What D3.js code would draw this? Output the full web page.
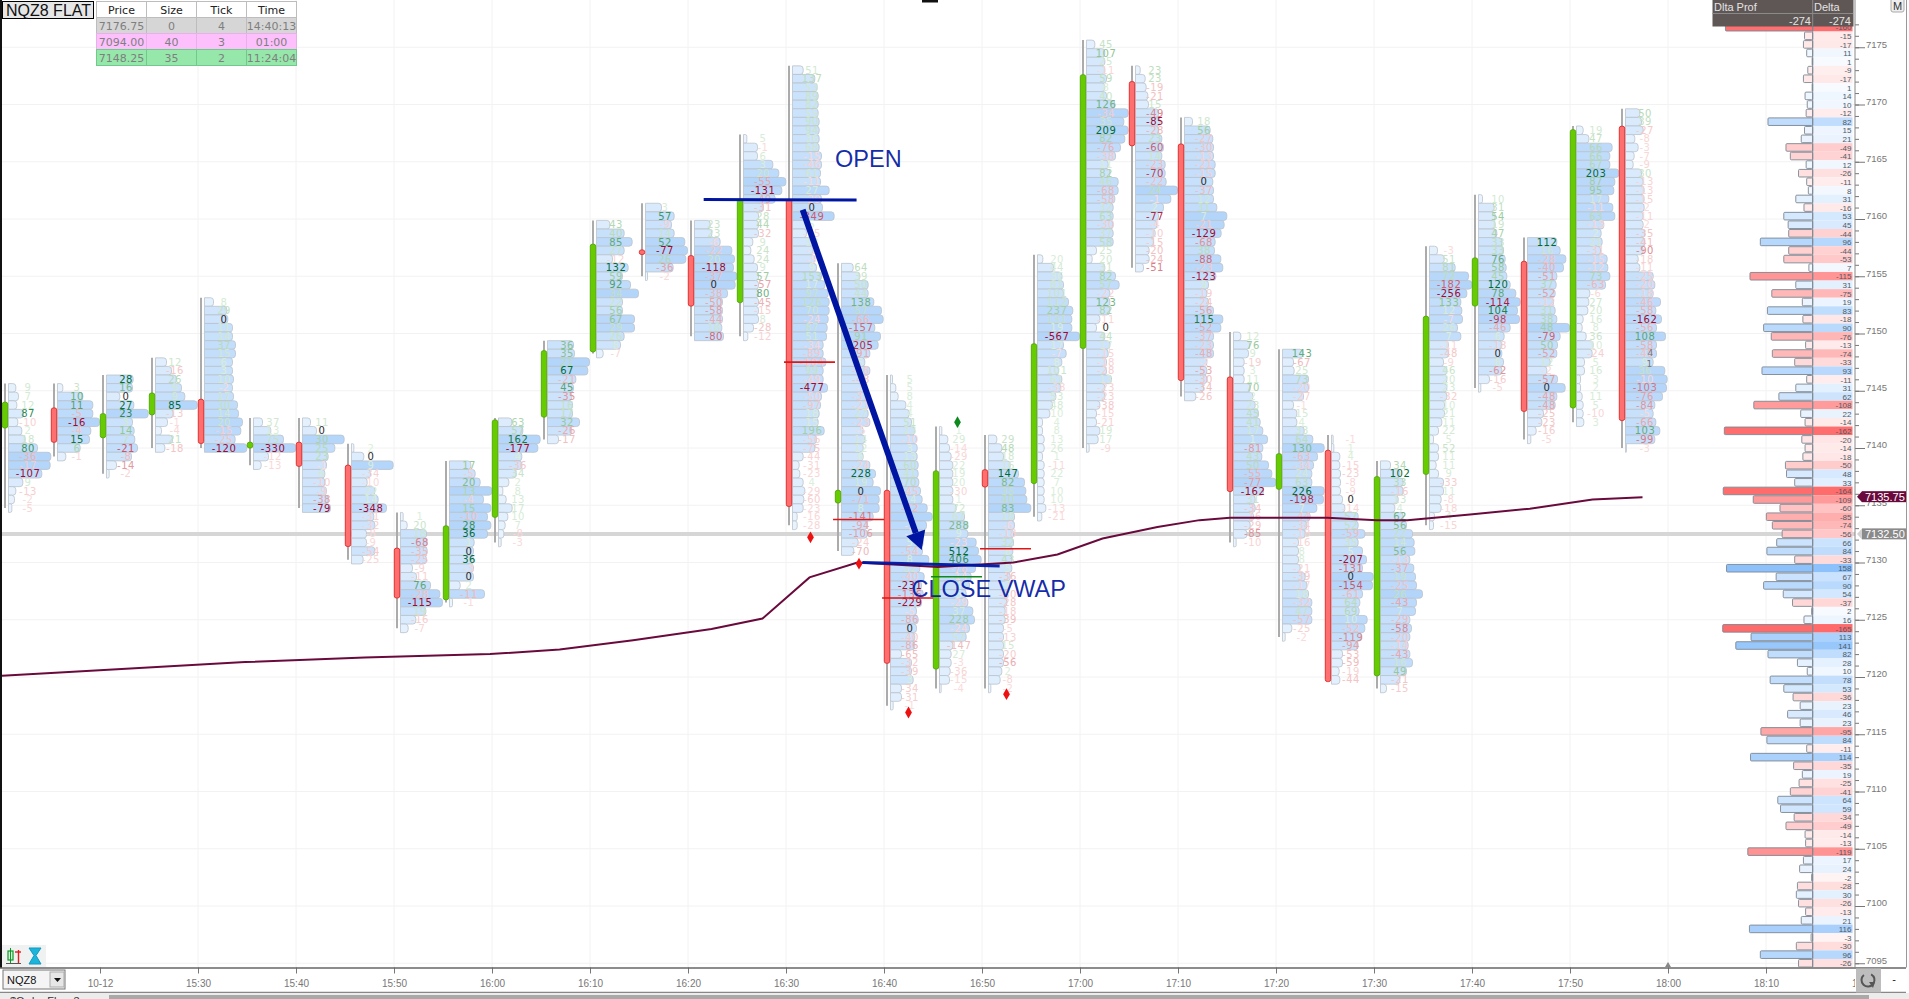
<!DOCTYPE html>
<html><head><meta charset="utf-8">
<script src="https://cdnjs.cloudflare.com/ajax/libs/d3/7.8.5/d3.min.js"></script>
<style>html,body{margin:0;padding:0;background:#fff;overflow:hidden}svg{display:block}</style>
</head><body><svg id="c" width="1909" height="999"></svg>
<script>
// minutes after 15:00 of each 5-minute bar
const barMinutes=[10,15,20,25,30,35,40,45,50,55,60,65,70,75,80,85,90,95,100,105,110,115,120,125,130,135,140,145,150,155,160,165,170,175];
const barTop=[7145.25,7145.25,7146,7147.5,7152.75,7142.25,7142.25,7140,7134,7138.5,7142.25,7149,7159.5,7161,7159.5,7167,7173,7155.75,7146,7141.5,7140.75,7156.5,7175.25,7173,7168.5,7149.75,7148.25,7140.75,7138.5,7157.25,7161.75,7158,7167.75,7169.25];
const barOpen=[7141.75,7143.5,7140.9,7142.9,7144.25,7140,7140.5,7138.5,7131.25,7126.75,7133.95,7142.7,7148.4,7157.3,7156.8,7152.7,7161.7,7135.2,7136.3,7120.7,7138.1,7136.9,7148.7,7172,7166.55,7146.2,7136.4,7139.8,7120.1,7137.7,7152.4,7156.3,7143.5,7168.1];
const barClose=[7144,7140.5,7143,7144.8,7140.4,7140.5,7138.4,7131.4,7126.9,7133.2,7142.45,7148.5,7157.8,7156.9,7152.4,7161.7,7134.9,7136.3,7121.2,7138,7136.6,7149.1,7172.6,7166.4,7145.9,7136.2,7139.5,7119.6,7137.5,7151.5,7156.6,7143.2,7167.8,7142.4];
// bid/ask delta of each price row, top to bottom
const barDeltas=[
[9,7,12,87,-10,2,18,80,-36,-17,-107,9,-13,-2,-5],
[3,10,11,-5,-16,-4,15,6,-1],
[28,16,0,27,23,3,14,7,-21,-8,-14,-2],
[12,-16,26,9,9,85,-13,-1,-4,21,-18],
[8,29,0,11,14,37,15,6,3,10,-2,17,30,14,20,-15,-25,-120],
[37,13,75,-330,-12,-13],
[11,0,30,25,23,-1,6,-10,-9,-38,-79],
[2,0,9,-34,-10,22,14,-348,-31,-32,-8,-9,-54,-25],
[1,20,18,-68,-35,-25,-9,-11,76,-28,-115,19,-16,-7],
[17,-5,20,13,-4,15,-10,28,36,1,0,36,-3,0,2,-11,-1],
[63,57,162,-177,4,-36,34,2,8,13,17,10,7,-8,-3],
[36,35,21,67,-21,45,-35,16,17,32,-26,-17],
[43,40,85,27,-12,132,59,92,34,22,56,67,29,26,8,-7],
[3,57,-9,14,52,-77,26,-36,-2],
[23,23,-6,-22,20,-118,-37,0,-38,-50,-58,-44,18,-80],
[5,-1,6,3,20,-55,-131,-49,-31,28,44,-32,9,24,24,9,57,-57,80,-45,-15,8,-28,-12],
[51,137,53,89,82,55,90,94,36,68,-15,-46,61,-11,27,-29,0,-349,5,-15,38,-3,-9,9,153,17,97,126,70,-24,87,51,-34,-89,-104,99,-49,-477,-50,-97,18,15,196,-56,-75,-44,-31,-23,4,-29,-60,-23,-16,-28],
[64,39,50,44,138,57,-66,-157,91,-205,-91,5,-36,-48,-9,-31,-21,27,-23,-5,14,12,6,-24,228,19,0,-71,8,-141,-94,-106,-24,-70],
[5,5,8,4,4,51,23,-10,3,13,60,41,70,-45,14,-72,6,-5,-2,5,-54,8,32,-40,-231,-136,-229,-5,-86,0,-40,-86,-65,-32,-39,3,-34,-31,-1],
[1,29,-14,-29,22,19,20,-30,1,72,67,288,9,-23,512,406,-78,-14,4,5,-29,37,228,-24,57,-147,27,-3,-36,-15,-4],
[29,48,18,16,147,82,35,40,83,18,-6,-18,32,8,43,5,-36,7,-30,-28,-18,-39,-5,-13,15,-20,-56,2,-8,-2],
[20,44,36,81,101,112,237,131,19,-567,17,-7,8,101,61,-38,53,48,10,4,8,13,26,1,-11,22,7,10,10,-13,-21],
[45,107,25,-11,59,8,40,126,-34,35,209,82,-76,-38,11,82,46,-68,-58,32,63,-30,37,58,25,20,31,82,57,-22,123,82,-11,0,44,17,-15,-18,-28,13,-23,-23,-38,-15,-21,19,17,-9],
[23,23,-19,-21,15,-49,-85,-28,23,-60,14,-23,-70,-22,24,-1,2,-77,-4,-10,-15,-20,-24,-51],
[18,56,-27,-30,-13,-21,-15,0,-37,12,31,7,-21,-129,-68,38,-88,-23,-123,9,-19,-24,-56,115,-52,-37,-23,-48,-2,-53,-30,-34,-26],
[12,76,9,-19,3,11,70,2,23,45,41,17,1,-81,43,50,-55,-77,-162,31,-34,-16,-29,-85,-10],
[143,-67,25,73,-20,-27,-1,15,4,33,64,130,-63,-34,24,63,226,-198,7,-44,-34,-18,-16,8,8,-21,-39,-17,18,-32,47,-57,-25,-2],
[-1,1,4,-15,-23,-8,-9,0,-14,57,52,-59,35,5,-207,-131,0,-154,-61,64,69,10,-52,-119,-94,-53,-59,-19,-44],
[34,102,33,-16,13,4,62,56,22,14,56,-13,-37,19,-25,26,-43,7,-29,-58,-20,-14,-43,16,49,-21,-15],
[-3,51,81,72,-182,-256,133,12,-7,26,7,-11,-48,-9,46,20,23,-32,10,21,11,22,5,52,11,11,9,-33,11,-8,-18,4,-15],
[10,31,54,19,47,33,33,76,58,45,120,78,-114,104,-98,-46,6,-18,0,8,-62,-16,-5],
[112,16,-28,-40,-51,37,-52,-12,31,38,48,-79,50,-52,12,-2,-57,0,-48,-48,-25,-23,-16,-5],
[19,47,66,66,67,203,87,95,17,-11,63,-13,2,21,-31,-15,-12,73,-63,-6,27,20,16,8,36,10,-24,5,16,3,2,11,5,-10,3],
[50,39,-27,-8,-3,-7,-9,30,-13,-13,-15,-2,-11,-2,-35,-41,-90,-18,-11,-25,-20,-18,-46,-58,-162,-56,108,-58,-40,9,36,-10,-103,-76,-84,-5,-66,103,-99,-3]
];
// traded volume of each price row (relative units read from the profile lengths)
const barVolumes=[
[22,30,25,45,28,40,50,87,127,125,100,43,22,18,10],
[16,76,106,106,126,100,96,68,25],
[80,78,40,82,125,78,83,85,93,75,30,8],
[33,48,63,78,88,125,53,36,18,51,28],
[27,67,70,84,84,93,93,84,84,87,84,87,99,102,114,109,92,127],
[27,52,90,127,45,23],
[24,42,125,97,77,72,67,67,72,77,84],
[7,37,125,57,47,70,80,105,67,70,45,45,70,35],
[8,20,78,80,80,78,36,48,90,118,126,76,46,23],
[64,77,92,127,102,124,114,124,114,74,72,72,72,72,32,105,9],
[40,73,125,118,70,70,53,31,13,23,41,28,20,16,8],
[78,81,126,121,85,78,73,75,75,96,73,33],
[40,83,107,83,48,95,78,102,126,78,78,114,114,83,72,20],
[48,86,78,86,118,126,121,83,6],
[47,52,77,112,120,117,127,122,99,84,84,84,82,87],
[10,42,42,88,106,127,115,95,60,45,45,45,28,22,32,42,45,45,45,45,45,45,30,13],
[32,67,74,77,77,77,80,80,80,80,87,87,84,84,110,87,90,125,52,42,62,62,67,72,87,97,107,110,110,107,104,102,92,92,100,92,92,105,87,84,80,77,95,72,67,32,20,22,32,37,34,32,14,14],
[35,55,80,80,97,120,125,100,117,110,85,70,85,70,70,85,80,80,85,65,70,65,65,85,102,95,117,113,113,95,77,77,50,37],
[6,16,23,46,56,63,73,78,80,80,83,83,85,90,95,110,125,108,98,98,96,115,88,101,93,98,93,78,83,78,73,73,33,63,63,68,33,33,8],
[7,25,30,35,40,40,40,40,40,50,75,85,85,110,117,125,108,95,90,80,85,100,105,90,80,40,35,35,32,30,5],
[25,40,45,65,90,108,112,115,127,78,78,75,75,73,70,70,65,65,55,55,50,50,45,45,45,45,45,40,35,7],
[16,48,73,78,78,93,106,103,103,126,78,86,73,63,73,70,55,45,37,15,15,20,20,15,20,20,20,20,20,25,13],
[25,55,55,55,60,55,60,85,125,112,125,115,102,87,65,70,95,95,85,80,80,80,80,80,30,17,55,87,98,70,70,70,40,30,55,70,65,60,60,75,55,55,40,30,30,40,35,8],
[14,29,32,37,39,69,74,69,79,84,79,89,89,92,126,106,84,69,64,59,54,41,41,24],
[24,77,85,87,87,92,92,85,87,87,97,127,119,110,92,90,109,115,94,72,67,72,87,115,109,87,87,87,67,67,67,57,34],
[22,48,45,32,32,32,50,58,65,75,80,88,102,88,85,105,115,127,90,65,65,60,50,40,8],
[61,33,35,78,78,63,33,43,43,65,91,125,105,93,88,88,125,123,103,83,73,68,48,48,48,53,68,73,78,88,88,88,28,8],
[5,7,25,25,27,27,27,33,40,80,80,100,80,93,105,93,125,123,93,85,83,107,100,90,80,33,33,23,25],
[30,58,68,68,53,43,68,78,96,101,103,88,100,105,108,126,108,105,88,93,88,83,88,96,78,58,18],
[24,44,77,117,127,112,94,97,99,84,94,57,57,42,52,52,52,52,45,45,37,27,12,27,27,20,27,42,42,35,35,15,12],
[12,47,50,50,55,70,75,80,83,85,95,112,125,117,123,95,77,70,70,75,70,33,7],
[88,98,115,108,88,86,83,78,83,88,126,98,90,88,68,58,90,113,88,83,48,43,26,10],
[20,37,107,100,100,127,115,112,97,109,115,82,74,77,72,92,94,100,87,40,37,34,20,17,29,50,47,24,24,12,12,17,20,20,22],
[43,48,53,28,38,26,23,48,53,56,56,56,53,53,58,58,53,38,43,83,88,83,105,91,108,93,120,93,93,83,118,125,123,111,88,83,91,103,88,3]
];
// session delta profile, from 7176.75 down in 0.75 steps
const profileTop=7176.75;
const sessionDelta="-274";
const profileDeltas=[-160,-15,-17,11,1,-9,-17,1,14,10,-12,82,15,21,-49,-41,12,-26,-11,8,31,-16,53,45,-44,96,-44,-53,7,-115,31,-75,19,83,-18,90,-76,-13,-74,-33,93,-11,31,62,-108,22,-14,-162,-20,-14,-18,-50,48,33,-164,-109,-60,-85,-74,-56,66,84,-33,158,67,90,54,-37,2,16,-165,113,141,82,28,10,78,53,-36,23,46,23,-95,84,-11,114,-35,19,-25,-41,64,59,-34,-49,-14,-13,-119,17,24,-2,-28,30,-26,-13,21,116,-3,-30,96,-26];
const vwapMinutes=[10,15.9,22.2,34.8,47,59.8,66.9,74.4,82.4,87.6,92.4,97.3,105.5,113.2,117.7,122.3,127.9,132.2,135.3,145.2,150.3,153.4,159.8,165.9,172.3,177.4];
const vwapPrices=[7120.1,7120.4,7120.7,7121.3,7121.7,7122,7122.4,7123.2,7124.2,7125.1,7128.7,7130,7129.6,7130,7130.7,7132.1,7133.1,7133.7,7133.9,7133.9,7133.7,7133.7,7134.2,7134.7,7135.5,7135.7];
const timeTickMinutes=[20,30,40,50,60,70,80,90,100,110,120,130,140,150,160,170,180,190,200];
const timeTickLabels=["10-12","15:30","15:40","15:50","16:00","16:10","16:20","16:30","16:40","16:50","17:00","17:10","17:20","17:30","17:40","17:50","18:00","18:10","18:20"];
const priceTicks=[7175,7170,7165,7160,7155,7150,7145,7140,7135,7130,7125,7120,7115,7110,7105,7100,7095];
const tableHeaders=["Price","Size","Tick","Time"];
const tableRows=[["7176.75","0","4","14:40:13"],["7094.00","40","3","01:00"],["7148.25","35","2","11:24:04"]];
const tableColors=["#d6d6d6","#fdc0fd","#95e8aa"];
const tableBorders=["#bdbdbd","#e8b0e8","#72c98c"];
const lastPrice=7132.5, vwapLast=7135.75;
const redDiamonds=[[92.5,7132.2],[97.45,7129.9],[102.5,7116.9],[112.5,7118.5]];
const greenDiamonds=[[107.5,7142.25]];
const redSegments=[[89.8,95,7147.5],[94.8,100,7133.75],[99.8,105,7126.9],[109.8,115,7131.2]];
const greenSegments=[[104.8,110,7128.75]];
const openLine=[[81.6,7161.7],[97.2,7161.66]];
const vwapNote=[[97.8,7130],[111.8,7129.7]];
const arrowLine=[[91.7,7160.8],[103.85,7131.1]];
const notes=[["OPEN",95,7164.5],["CLOSE VWAP",102.8,7127]];
const smallCounts=[["4",178.2,7148],["1",178.1,7147.1]];

const W=1909,H=999,axisX=1855,chartBottom=967.5;
const x=d3.scaleLinear().domain([30,190]).range([198,1766]);
const y=d3.scaleLinear().domain([7170,7095]).range([104.5,963.25]);
const rowH=y(7169.25)-y(7170);
const barOff=3;
const vol=d3.scaleLinear().domain([0,300]).range([0,100]);
const svg=d3.select("#c");
const DJ="'DejaVu Sans'",LB="'Liberation Sans'";
svg.append("rect").attr("width",W).attr("height",H).attr("fill","#fff");
svg.append("defs").append("clipPath").attr("id","timeClip").append("rect").attr("x",0).attr("y",960).attr("width",axisX).attr("height",40);

// grid
const grid=svg.append("g");
grid.selectAll("line.h").data(priceTicks).join("line").attr("class","h").attr("x1",2).attr("x2",axisX).attr("y1",d=>y(d)).attr("y2",d=>y(d)).attr("stroke","#f2f2f2");
grid.selectAll("line.v").data(timeTickMinutes.slice(1,18)).join("line").attr("class","v").attr("x1",d=>x(d)).attr("x2",d=>x(d)).attr("y1",0).attr("y2",chartBottom).attr("stroke","#f2f2f2");
// last price band
svg.append("line").attr("x1",2).attr("x2",axisX).attr("y1",y(lastPrice)).attr("y2",y(lastPrice)).attr("stroke","#d6d6d6").attr("stroke-width",4);

// footprint bars
const fillC=d3.scaleLinear().domain([0,127]).range(["#f0f7fe","#b3d5fa"]).clamp(true);
const greenC=d3.scaleLinear().domain([0,.25,.5,.75,1]).range(["#dcefdc","#c2e0c2","#92c795","#3f9462","#006b35"]).clamp(true);
const redC=d3.scaleLinear().domain([0,.25,.5,.75,1]).range(["#fadcdc","#f2c0c0","#e29a9e","#c9566a","#a00a30"]).clamp(true);
function deltaColor(d,mx){return d===0?"#2c2c2c":d>0?greenC(d/mx):redC(-d/mx);}
function rowPath(x0,yc,w,h){
  const r=Math.min(3,w/2),p=d3.path(),t=yc-h/2,b=yc+h/2;
  p.moveTo(x0,t);p.lineTo(x0+w-r,t);p.quadraticCurveTo(x0+w,t,x0+w,t+r);p.lineTo(x0+w,b-r);p.quadraticCurveTo(x0+w,b,x0+w-r,b);p.lineTo(x0,b);p.closePath();
  return p.toString();
}
barMinutes.forEach((m,i)=>{
  const cx=x(m)+barOff,g=svg.append("g");
  const rows=barDeltas[i].map((d,j)=>({d,v:barVolumes[i][j],p:barTop[i]-0.75*j}));
  const mx=d3.max(barDeltas[i],Math.abs);
  g.append("line").attr("x1",cx).attr("x2",cx).attr("y1",y(barTop[i])-rowH/2).attr("y2",y(rows[rows.length-1].p)).attr("stroke","#ababab").attr("stroke-width",2);
  g.selectAll("path").data(rows).join("path").attr("d",r=>rowPath(cx+3.5,y(r.p),vol(r.v),rowH)).attr("fill",r=>fillC(r.v)).attr("stroke","#bac3cd").attr("stroke-width",.8);
  const top=Math.min(y(barOpen[i]),y(barClose[i])),h=Math.max(Math.abs(y(barOpen[i])-y(barClose[i])),4.5),up=barClose[i]>=barOpen[i];
  g.append("rect").attr("x",cx-2.7).attr("y",top).attr("width",5.4).attr("height",h).attr("rx",2).attr("fill",up?"#66cc00":"#ff6f6f").attr("stroke",up?"#4da600":"#e02525").attr("stroke-width",.9);
  g.selectAll("text").data(rows).join("text").attr("x",cx+23).attr("y",r=>y(r.p)+3.6).attr("text-anchor","middle").attr("font-family",DJ).attr("font-size",10).attr("letter-spacing",.5).attr("fill",r=>deltaColor(r.d,mx)).text(r=>r.d);
});
// vwap
svg.append("path").attr("d",d3.line().x((d,i)=>x(vwapMinutes[i])).y(d=>y(d))(vwapPrices)).attr("fill","none").attr("stroke","#6a0a3c").attr("stroke-width",2);

// right delta profile
const prof=svg.append("g");
const profX=1812.7,profRight=1852.5;
const profW=d3.scaleLinear().domain([0,165]).range([0,90]);
const blueP=d3.scaleLinear().domain([0,158]).range(["#f8fbff","#8cc1fb"]);
const redP=d3.scaleLinear().domain([0,165]).range(["#fff6f6","#ff6b6b"]);
const pRows=profileDeltas.map((d,i)=>({d,p:profileTop-0.75*i}));
const pc=d=>d>=0?blueP(d):redP(-d);
prof.selectAll("rect.c").data(pRows).join("rect").attr("class","c").attr("x",profX).attr("width",profRight-profX).attr("y",r=>y(r.p)-rowH/2).attr("height",rowH).attr("fill",r=>pc(r.d));
prof.selectAll("rect.b").data(pRows).join("rect").attr("class","b").attr("x",r=>profX-profW(Math.abs(r.d))).attr("width",r=>profW(Math.abs(r.d))).attr("y",r=>y(r.p)-rowH/2+.5).attr("height",rowH-1).attr("rx",1).attr("fill",r=>pc(r.d)).attr("stroke","#7d8792").attr("stroke-width",.9);
prof.selectAll("text").data(pRows).join("text").attr("x",profRight-1).attr("y",r=>y(r.p)+3.2).attr("text-anchor","end").attr("font-family",LB).attr("font-size",8).attr("fill","#4f5a66").text(r=>r.d);
prof.append("line").attr("x1",profX).attr("x2",profX).attr("y1",26).attr("y2",chartBottom).attr("stroke","#7d8792");
// header
const hd=svg.append("g").attr("font-family",LB).attr("font-size",11).attr("fill","#e4e4e4");
hd.append("rect").attr("x",1712.5).attr("y",0).attr("width",141).attr("height",26.5).attr("fill","#5f5755");
hd.append("line").attr("x1",1712.5).attr("x2",1853).attr("y1",13.5).attr("y2",13.5).attr("stroke","#8a8a8a");
hd.append("line").attr("x1",profX).attr("x2",profX).attr("y1",0).attr("y2",26.5).attr("stroke","#8a8a8a");
hd.append("text").attr("x",1714).attr("y",11).text("Dlta Prof");
hd.append("text").attr("x",1814).attr("y",11).text("Delta");
hd.append("text").attr("x",1811).attr("y",24.5).attr("text-anchor","end").text(sessionDelta);
hd.append("text").attr("x",1851).attr("y",24.5).attr("text-anchor","end").text(sessionDelta);

// annotations
const ann=svg.append("g");
const BLUE="#0016a2";
ann.selectAll("line.r").data(redSegments).join("line").attr("class","r").attr("x1",d=>x(d[0])).attr("x2",d=>x(d[1])).attr("y1",d=>y(d[2])).attr("y2",d=>y(d[2])).attr("stroke","#e01515").attr("stroke-width",1.6);
ann.selectAll("line.g").data(greenSegments).join("line").attr("class","g").attr("x1",d=>x(d[0])).attr("x2",d=>x(d[1])).attr("y1",d=>y(d[2])).attr("y2",d=>y(d[2])).attr("stroke","#0e8a1a").attr("stroke-width",1.6);
const sym=d3.symbol().type(d3.symbolDiamond).size(40);
ann.selectAll("path.rd").data(redDiamonds).join("path").attr("class","rd").attr("d",sym).attr("transform",d=>`translate(${x(d[0])},${y(d[1])})`).attr("fill","#ee1111");
ann.selectAll("path.gd").data(greenDiamonds).join("path").attr("class","gd").attr("d",sym).attr("transform",d=>`translate(${x(d[0])},${y(d[1])})`).attr("fill","#0d8a1d");
const dl=d3.line().x(d=>x(d[0])).y(d=>y(d[1]));
ann.append("path").attr("d",dl(openLine)).attr("stroke",BLUE).attr("stroke-width",3).attr("fill","none");
ann.append("path").attr("d",dl(vwapNote)).attr("stroke",BLUE).attr("stroke-width",3).attr("fill","none").attr("stroke-opacity",.95);
const [a0,a1]=arrowLine,ax0=x(a0[0]),ay0=y(a0[1]),ax1=x(a1[0]),ay1=y(a1[1]);
const ang=Math.atan2(ay1-ay0,ax1-ax0),hl=18,hw=10;
const bx=ax1-hl*Math.cos(ang),by=ay1-hl*Math.sin(ang);
ann.append("line").attr("x1",ax0).attr("y1",ay0).attr("x2",bx).attr("y2",by).attr("stroke",BLUE).attr("stroke-width",6);
ann.append("polygon").attr("points",[[ax1,ay1],[bx-hw*Math.sin(ang),by+hw*Math.cos(ang)],[bx+hw*Math.sin(ang),by-hw*Math.cos(ang)]].join(" ")).attr("fill",BLUE);
ann.selectAll("text.n").data(notes).join("text").attr("class","n").attr("x",d=>x(d[1])).attr("y",d=>y(d[2])).attr("font-family",LB).attr("font-size",23.5).attr("fill",BLUE).attr("fill-opacity",.92).text(d=>d[0]);
ann.selectAll("text.s").data(smallCounts).join("text").attr("class","s").attr("x",d=>x(d[1])).attr("y",d=>y(d[2])).attr("text-anchor","middle").attr("font-family",DJ).attr("font-size",9).attr("fill","#777").text(d=>d[0]);

// price axis
svg.append("rect").attr("x",axisX).attr("y",0).attr("width",W-axisX).attr("height",chartBottom).attr("fill","#fff");
const minorTicks=d3.range(7095,7178);
const ya=svg.append("g").attr("transform",`translate(${axisX},0)`);
ya.call(d3.axisRight(y).tickValues(minorTicks).tickSize(4).tickFormat(""));
ya.select(".domain").remove();
ya.selectAll("line").attr("stroke","#777");
const yb=svg.append("g").attr("transform",`translate(${axisX},0)`);
yb.call(d3.axisRight(y).tickValues(priceTicks).tickSize(10).tickPadding(1).tickFormat(d3.format("d")));
yb.select(".domain").remove();
yb.selectAll("line").attr("stroke","#777");
yb.selectAll("text").attr("font-family",LB).attr("font-size",9.5).attr("fill","#777").attr("dy","-0.02em");
svg.append("line").attr("x1",axisX).attr("x2",axisX).attr("y1",0).attr("y2",chartBottom).attr("stroke","#888");
svg.append("line").attr("x1",1906.5).attr("x2",1906.5).attr("y1",0).attr("y2",993).attr("stroke","#999");
// price tags
function tag(price,fill,tip,col){
  const yy=y(price),g=svg.append("g");
  g.append("polygon").attr("points",[[1857,yy],[1862,yy-5.5],[1862,yy+5.5]].join(" ")).attr("fill",tip);
  g.append("rect").attr("x",1862).attr("y",yy-5.5).attr("width",44).attr("height",11).attr("fill",fill);
  g.append("text").attr("x",1865).attr("y",yy+4).attr("font-family",LB).attr("font-size",11).attr("fill",col).text(d3.format(".2f")(price));
}
tag(vwapLast,"#6a0a3c","#6a0a3c","#fff");
tag(lastPrice,"#8a8a8a","#d2d2d2","#fff");
// M button
svg.append("rect").attr("x",1891).attr("y",-3).attr("width",13).attr("height",15).attr("rx",2).attr("fill","#eee").attr("stroke","#aaa");
svg.append("text").attr("x",1897.5).attr("y",10).attr("text-anchor","middle").attr("font-family",LB).attr("font-size",11).attr("fill","#333").text("M");
svg.append("rect").attr("x",922).attr("y",0).attr("width",16).attr("height",2.5).attr("fill","#111");

// time axis
svg.append("rect").attr("x",0).attr("y",chartBottom).attr("width",W).attr("height",H-chartBottom).attr("fill","#fff");
const xa=svg.append("g").attr("clip-path","url(#timeClip)").append("g").attr("transform",`translate(0,${chartBottom})`);
xa.call(d3.axisBottom(x).tickValues(timeTickMinutes).tickSize(6).tickPadding(6).tickFormat((d,i)=>timeTickLabels[i]));
xa.select(".domain").remove();
xa.selectAll("line").attr("stroke","#777");
xa.selectAll("text").attr("font-family",LB).attr("font-size",10).attr("fill","#777");
svg.append("line").attr("x1",0).attr("x2",W-3).attr("y1",chartBottom+.5).attr("y2",chartBottom+.5).attr("stroke","#666").attr("stroke-width",1.4);
svg.append("line").attr("x1",0).attr("x2",W-3).attr("y1",992.5).attr("y2",992.5).attr("stroke","#888").attr("stroke-width",1.4);
svg.append("polygon").attr("points",[[x(180),962],[x(180)-3,967],[x(180)+3,967]].join(" ")).attr("fill","#888");
// bottom chrome
svg.append("rect").attr("x",0).attr("y",993).attr("width",W).attr("height",6).attr("fill","#ececec");
svg.append("rect").attr("x",109).attr("y",995).attr("width",1760).attr("height",4).attr("fill","#a9a9a9");
svg.append("text").attr("x",10).attr("y",1005).attr("font-family",LB).attr("font-size",11).attr("fill","#333").text("$Order Flow  3");
svg.append("rect").attr("x",1856).attr("y",968.5).attr("width",25).attr("height",24).attr("fill","#bdbdbd");
svg.append("path").attr("d",d3.arc()({innerRadius:5.5,outerRadius:7.5,startAngle:.5,endAngle:5.6})).attr("transform","translate(1868,980)").attr("fill","#555");
svg.append("polygon").attr("points","1869,982 1875,982 1873,988").attr("fill","#555");
svg.append("text").attr("x",1894).attr("y",983).attr("text-anchor","middle").attr("font-family",LB).attr("font-size",11).attr("fill","#222").text("-");
// symbol box
svg.append("rect").attr("x",3).attr("y",970).attr("width",62).attr("height",19).attr("fill","#f4f4f4").attr("stroke","#777");
svg.append("text").attr("x",7).attr("y",984).attr("font-family",LB).attr("font-size",11).attr("fill","#111").text("NQZ8");
svg.append("rect").attr("x",50).attr("y",972).attr("width",14).attr("height",15).attr("fill","#e6e6e6").attr("stroke","#aaa");
svg.append("polygon").attr("points","54,978 61,978 57.5,982").attr("fill","#111");
// tool icons
svg.append("rect").attr("x",2).attr("y",945).attr("width",44).attr("height",22).attr("fill","#f0f2f2");
svg.append("rect").attr("x",8).attr("y",951).attr("width",5).attr("height",9).attr("fill","#d8f5d8").attr("stroke","#0a9a2a").attr("stroke-width",1.2);
svg.append("line").attr("x1",10.5).attr("x2",10.5).attr("y1",948).attr("y2",963).attr("stroke","#0a9a2a");
svg.append("line").attr("x1",18.5).attr("x2",18.5).attr("y1",950).attr("y2",963).attr("stroke","#e51a1a").attr("stroke-width",1.4);
svg.append("line").attr("x1",15).attr("x2",21).attr("y1",952).attr("y2",952).attr("stroke","#e51a1a").attr("stroke-width",1.4);
svg.append("path").attr("d","M6,963.5H21").attr("stroke","#555");
svg.append("path").attr("d","M29,948H41L36,955.5L41,964H29L34,955.5Z").attr("fill","#1db4dc").attr("stroke","#0f9ac0");

// title and order table
svg.append("rect").attr("x",2.5).attr("y",1.5).attr("width",91).attr("height",17).attr("fill","#e6e6e6").attr("stroke","#000");
svg.append("text").attr("x",6).attr("y",15.5).attr("font-family",LB).attr("font-size",16).attr("fill","#111").text("NQZ8 FLAT");
svg.append("rect").attr("x",0).attr("y",0).attr("width",2).attr("height",chartBottom).attr("fill","#111");
const colX=d3.scaleBand().domain(d3.range(4)).range([96.5,296.5]);
const rowY=d3.scaleBand().domain(d3.range(4)).range([1.5,65.5]);
const tg=svg.append("g").attr("font-family",DJ).attr("font-size",11).attr("text-anchor","middle");
tableHeaders.forEach((h,c)=>{
  tg.append("rect").attr("x",colX(c)).attr("y",rowY(0)).attr("width",colX.bandwidth()).attr("height",rowY.bandwidth()).attr("fill","#fff").attr("stroke","#bdbdbd");
  tg.append("text").attr("x",colX(c)+colX.bandwidth()/2).attr("y",rowY(0)+12).attr("fill","#222").text(h);
});
tableRows.forEach((r,i)=>r.forEach((t,c)=>{
  tg.append("rect").attr("x",colX(c)).attr("y",rowY(i+1)).attr("width",colX.bandwidth()).attr("height",rowY.bandwidth()).attr("fill",tableColors[i]).attr("stroke",tableBorders[i]);
  tg.append("text").attr("x",colX(c)+colX.bandwidth()/2).attr("y",rowY(i+1)+12).attr("fill","#7f7f7f").text(t);
}));
</script></body></html>
